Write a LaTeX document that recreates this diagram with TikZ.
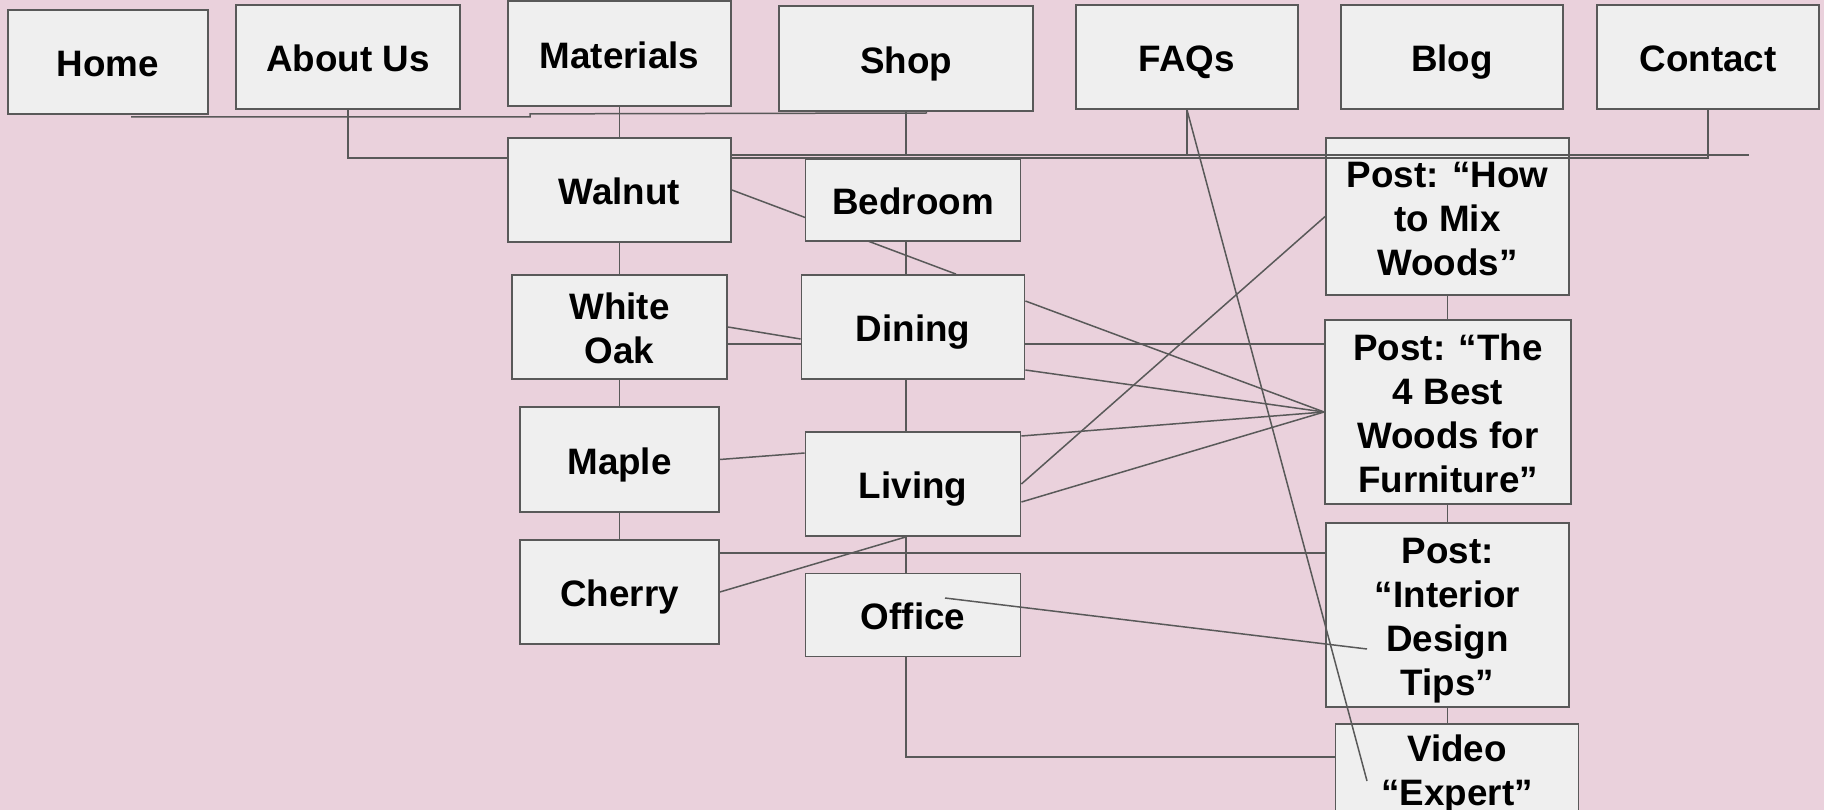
\documentclass[tikz,border=0pt]{standalone}
\usepackage{fontspec}
\setmainfont{Liberation Sans}
\usetikzlibrary{backgrounds}

\definecolor{bgpink}{HTML}{EAD1DC}
\definecolor{boxgray}{HTML}{EFEFEF}
\definecolor{linegray}{HTML}{595959}

% struts for the first and the last line of a box
\newcommand{\linetop}{\rule{0pt}{37.4pt}}
\newcommand{\linebot}{\rule[-8pt]{0pt}{8pt}}

\begin{document}
\begin{tikzpicture}[
        x = 1pt, y = -1pt, % one unit per pixel, y going down
        box/.style = {draw = linegray, line width = 1.8pt, fill = boxgray,
                      inner sep = 0pt, align = center,
                      font = \fontsize{36.8}{44}\selectfont\bfseries}, % page box
        link/.style = {draw = linegray, line width = 1.5pt} % line style
        ]

  \useasboundingbox (0,0) rectangle (1824,810);
  \begin{scope}[on background layer]
    \fill[bgpink] (0,0) rectangle (1824,810);
  \end{scope}

  % top menu
  \node[box, minimum width=200pt, minimum height=104pt] (home) at (108,62) {\linetop Home\linebot};
  \node[box, minimum width=224pt, minimum height=104pt] (about) at (348,57) {\linetop About Us\linebot};
  \node[box, minimum width=223pt, minimum height=105pt] (materials) at (619.5,53.5) {\linetop Materials\linebot};
  \node[box, minimum width=254pt, minimum height=105pt] (shop) at (906,58.5) {\linetop Shop\linebot};
  \node[box, minimum width=222pt, minimum height=104pt] (faqs) at (1187,57) {\linetop FAQs\linebot};
  \node[box, minimum width=222pt, minimum height=104pt] (blog) at (1452,57) {\linetop Blog\linebot};
  \node[box, minimum width=222pt, minimum height=104pt] (contact) at (1708,57) {\linetop Contact\linebot};

  % woods
  \node[box, minimum width=223pt, minimum height=104pt] (walnut) at (619.5,190) {\linetop Walnut\linebot};
  \node[box, minimum width=215pt, minimum height=104pt] (whiteoak) at (619.5,327) {\linetop White\\Oak\linebot};
  \node[box, minimum width=199pt, minimum height=105pt] (maple) at (619.5,459.5) {\linetop Maple\linebot};
  \node[box, minimum width=199pt, minimum height=104pt] (cherry) at (619.5,592) {\linetop Cherry\linebot};

  % rooms
  \node[box, minimum width=215pt, minimum height=82pt] (bedroom) at (913,200) {\linetop Bedroom\linebot};
  \node[box, minimum width=223pt, minimum height=104pt] (dining) at (913,327) {\linetop Dining\linebot};
  \node[box, minimum width=215pt, minimum height=104pt] (living) at (913,484) {\linetop Living\linebot};
  \node[box, minimum width=215pt, minimum height=83pt] (office) at (913,615) {\linetop Office\linebot};

  % blog posts
  \node[box, minimum width=243pt, minimum height=157pt] (posthow) at (1447.5,216.5) {\linetop Post: “How\\to Mix\\Woods”\linebot};
  \node[box, minimum width=246pt, minimum height=184pt] (postbest) at (1448,412) {\linetop Post: “The\\4 Best\\Woods for\\Furniture”\linebot};
  \node[box, minimum width=243pt, minimum height=184pt] (postinterior) at (1447.5,615) {\linetop Post:\\“Interior\\Design\\Tips”\linebot};
  \node[box, minimum width=243pt, minimum height=88pt] (video) at (1457,769) {\linetop Video\\“Expert”\linebot};

  \coordinate (homeend) at (927,113);
  \coordinate (busa) at (1749,155);
  \coordinate (busb) at (0,158);
  \coordinate (vidturn) at (906,757);

  % lines behind the boxes
  \begin{scope}[on background layer]
    \draw[link] (materials) -- (cherry);
    \draw[link] (vidturn |- bedroom) -- (vidturn) -- (vidturn -| video.west);
    \draw[link] (posthow) -- (postinterior) -- (postinterior |- video);
    \draw[link] (walnut.east) -- ([xshift=43pt]dining.north);
    \draw[link] (whiteoak.east) -- ([yshift=-12pt]dining.west);
    \draw[link] ([yshift=-17pt]whiteoak.east) coordinate (wo) -- (wo -| postbest.west);
    \draw[link] ([yshift=26pt]dining.east) -- (postbest.west);
    \draw[link] ([yshift=-43pt]dining.east) -- (postbest.west);
    \draw[link] ([yshift=48pt]living.east) -- (postbest.west);
    \draw[link] ([yshift=-18pt]living.east) -- (postbest.west);
    \draw[link] (living.east) -- (posthow.west);
    \draw[link] (maple.east) -- ([yshift=31pt]living.west);
    \draw[link] ([yshift=39pt]cherry.east) coordinate (ch) -- (ch -| postinterior.west);
    \draw[link] (cherry.east) -- (vidturn |- living.south);
  \end{scope}

  % menu lines
  \draw[link] ([shift={(23,2)}]home.south) -- ++(399,0) -- ++(0,-3) -- (homeend);
  \draw[link] (about.south) |- (walnut.west |- busb);
  \draw[link] (walnut.east |- busb) -| (contact.south);
  \draw[link] (walnut.east |- busa) -- (busa);
  \draw[link] (shop.south) -- (shop.south |- busa);
  \draw[link] (faqs.south) -- (faqs.south |- busa);

  % lines over the boxes
  \draw[link] (faqs.south) -- ([shift={(-90,12)}]video.center);
  \draw[link] ([shift={(32,-17)}]office.center) -- ([shift={(-80.5,34)}]postinterior.center);

\end{tikzpicture}
\end{document}
